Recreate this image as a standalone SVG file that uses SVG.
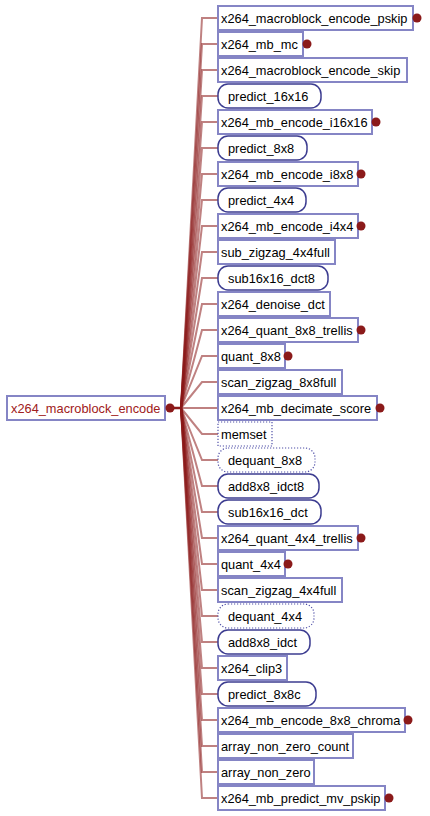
<svg xmlns="http://www.w3.org/2000/svg" width="430" height="816" viewBox="0 0 430 816">
<style>
text{font-family:"Liberation Sans",Arial,sans-serif;font-size:12.8px;fill:#000}
.r{fill:#fff;stroke:#8585c5;stroke-width:2}
.o{fill:#fff;stroke:#3c3c90;stroke-width:1.5}
.d{fill:#fff;stroke:#5050a8;stroke-width:1.2;stroke-dasharray:1.2 1.8}
.dot{fill:#8b1a1a}
.c{fill:none;stroke:#8b1a1a;stroke-opacity:0.55;stroke-width:2}
.root text{fill:#a02020}
</style>
<rect width="430" height="816" fill="#fff"/>
<g id="connectors">
<path class="c" d="M181 408L202 18H218"/>
<path class="c" d="M181 408L202 44H218"/>
<path class="c" d="M181 408L202 70H218"/>
<path class="c" d="M181 408L202 96H218"/>
<path class="c" d="M181 408L202 122H218"/>
<path class="c" d="M181 408L202 148H218"/>
<path class="c" d="M181 408L202 174H218"/>
<path class="c" d="M181 408L202 200H218"/>
<path class="c" d="M181 408L202 226H218"/>
<path class="c" d="M181 408L202 252H218"/>
<path class="c" d="M181 408L202 278H218"/>
<path class="c" d="M181 408L202 304H218"/>
<path class="c" d="M181 408L202 330H218"/>
<path class="c" d="M181 408L202 356H218"/>
<path class="c" d="M181 408L202 382H218"/>
<path class="c" d="M181 408L202 408H218"/>
<path class="c" d="M181 408L202 434H218"/>
<path class="c" d="M181 408L202 460H218"/>
<path class="c" d="M181 408L202 486H218"/>
<path class="c" d="M181 408L202 512H218"/>
<path class="c" d="M181 408L202 538H218"/>
<path class="c" d="M181 408L202 564H218"/>
<path class="c" d="M181 408L202 590H218"/>
<path class="c" d="M181 408L202 616H218"/>
<path class="c" d="M181 408L202 642H218"/>
<path class="c" d="M181 408L202 668H218"/>
<path class="c" d="M181 408L202 694H218"/>
<path class="c" d="M181 408L202 720H218"/>
<path class="c" d="M181 408L202 746H218"/>
<path class="c" d="M181 408L202 772H218"/>
<path class="c" d="M181 408L202 798H218"/>
<path d="M170 408H182" stroke="#8b1a1a" stroke-width="2.5" fill="none"/>
</g>
<g id="root" class="root"><rect class="r" x="7" y="396" width="158" height="24"/><text x="11" y="412.5">x264_macroblock_encode</text><circle class="dot" cx="170" cy="408" r="4.5"/></g>
<g id="n1"><rect class="r" x="218" y="6" width="195" height="24"/><text x="221" y="22.5">x264_macroblock_encode_pskip</text><circle class="dot" cx="417" cy="18" r="4.5"/></g>
<g id="n2"><rect class="r" x="218" y="32" width="85" height="24"/><text x="221" y="48.5">x264_mb_mc</text><circle class="dot" cx="307" cy="44" r="4.5"/></g>
<g id="n3"><rect class="r" x="218" y="58" width="189" height="24"/><text x="221" y="74.5">x264_macroblock_encode_skip</text></g>
<g id="n4"><rect class="o" x="218" y="84" width="103" height="24" rx="10"/><text x="228" y="100.5">predict_16x16</text></g>
<g id="n5"><rect class="r" x="218" y="110" width="154" height="24"/><text x="221" y="126.5">x264_mb_encode_i16x16</text><circle class="dot" cx="376" cy="122" r="4.5"/></g>
<g id="n6"><rect class="o" x="218" y="136" width="89" height="24" rx="10"/><text x="228" y="152.5">predict_8x8</text></g>
<g id="n7"><rect class="r" x="218" y="162" width="140" height="24"/><text x="221" y="178.5">x264_mb_encode_i8x8</text><circle class="dot" cx="361" cy="174" r="4.5"/></g>
<g id="n8"><rect class="o" x="218" y="188" width="88" height="24" rx="10"/><text x="228" y="204.5">predict_4x4</text></g>
<g id="n9"><rect class="r" x="218" y="214" width="140" height="24"/><text x="221" y="230.5">x264_mb_encode_i4x4</text><circle class="dot" cx="361" cy="226" r="4.5"/></g>
<g id="n10"><rect class="r" x="218" y="240" width="117" height="24"/><text x="221" y="256.5">sub_zigzag_4x4full</text></g>
<g id="n11"><rect class="o" x="218" y="266" width="110" height="24" rx="10"/><text x="228" y="282.5">sub16x16_dct8</text></g>
<g id="n12"><rect class="r" x="218" y="292" width="112" height="24"/><text x="221" y="308.5">x264_denoise_dct</text></g>
<g id="n13"><rect class="r" x="218" y="318" width="140" height="24"/><text x="221" y="334.5">x264_quant_8x8_trellis</text><circle class="dot" cx="361" cy="330" r="4.5"/></g>
<g id="n14"><rect class="r" x="218" y="344" width="67" height="24"/><text x="221" y="360.5">quant_8x8</text><circle class="dot" cx="288" cy="356" r="4.5"/></g>
<g id="n15"><rect class="r" x="218" y="370" width="124" height="24"/><text x="221" y="386.5">scan_zigzag_8x8full</text></g>
<g id="n16"><rect class="r" x="218" y="396" width="159" height="24"/><text x="221" y="412.5">x264_mb_decimate_score</text><circle class="dot" cx="380" cy="408" r="4.5"/></g>
<g id="n17"><rect class="d" x="218" y="422" width="54" height="24"/><text x="221" y="438.5">memset</text></g>
<g id="n18"><rect class="d" x="218" y="448" width="97" height="24" rx="10"/><text x="228" y="464.5">dequant_8x8</text></g>
<g id="n19"><rect class="o" x="218" y="474" width="101" height="24" rx="10"/><text x="228" y="490.5">add8x8_idct8</text></g>
<g id="n20"><rect class="o" x="218" y="500" width="103" height="24" rx="10"/><text x="228" y="516.5">sub16x16_dct</text></g>
<g id="n21"><rect class="r" x="218" y="526" width="140" height="24"/><text x="221" y="542.5">x264_quant_4x4_trellis</text><circle class="dot" cx="361" cy="538" r="4.5"/></g>
<g id="n22"><rect class="r" x="218" y="552" width="67" height="24"/><text x="221" y="568.5">quant_4x4</text><circle class="dot" cx="288" cy="564" r="4.5"/></g>
<g id="n23"><rect class="r" x="218" y="578" width="124" height="24"/><text x="221" y="594.5">scan_zigzag_4x4full</text></g>
<g id="n24"><rect class="d" x="218" y="604" width="96" height="24" rx="10"/><text x="228" y="620.5">dequant_4x4</text></g>
<g id="n25"><rect class="o" x="218" y="630" width="92" height="24" rx="10"/><text x="228" y="646.5">add8x8_idct</text></g>
<g id="n26"><rect class="r" x="218" y="656" width="69" height="24"/><text x="221" y="672.5">x264_clip3</text></g>
<g id="n27"><rect class="o" x="218" y="682" width="98" height="24" rx="10"/><text x="228" y="698.5">predict_8x8c</text></g>
<g id="n28"><rect class="r" x="218" y="708" width="187" height="24"/><text x="221" y="724.5">x264_mb_encode_8x8_chroma</text><circle class="dot" cx="408" cy="720" r="4.5"/></g>
<g id="n29"><rect class="r" x="218" y="734" width="135" height="24"/><text x="221" y="750.5">array_non_zero_count</text></g>
<g id="n30"><rect class="r" x="218" y="760" width="96" height="24"/><text x="221" y="776.5">array_non_zero</text></g>
<g id="n31"><rect class="r" x="218" y="786" width="167" height="24"/><text x="221" y="802.5">x264_mb_predict_mv_pskip</text><circle class="dot" cx="389" cy="798" r="4.5"/></g>
</svg>
